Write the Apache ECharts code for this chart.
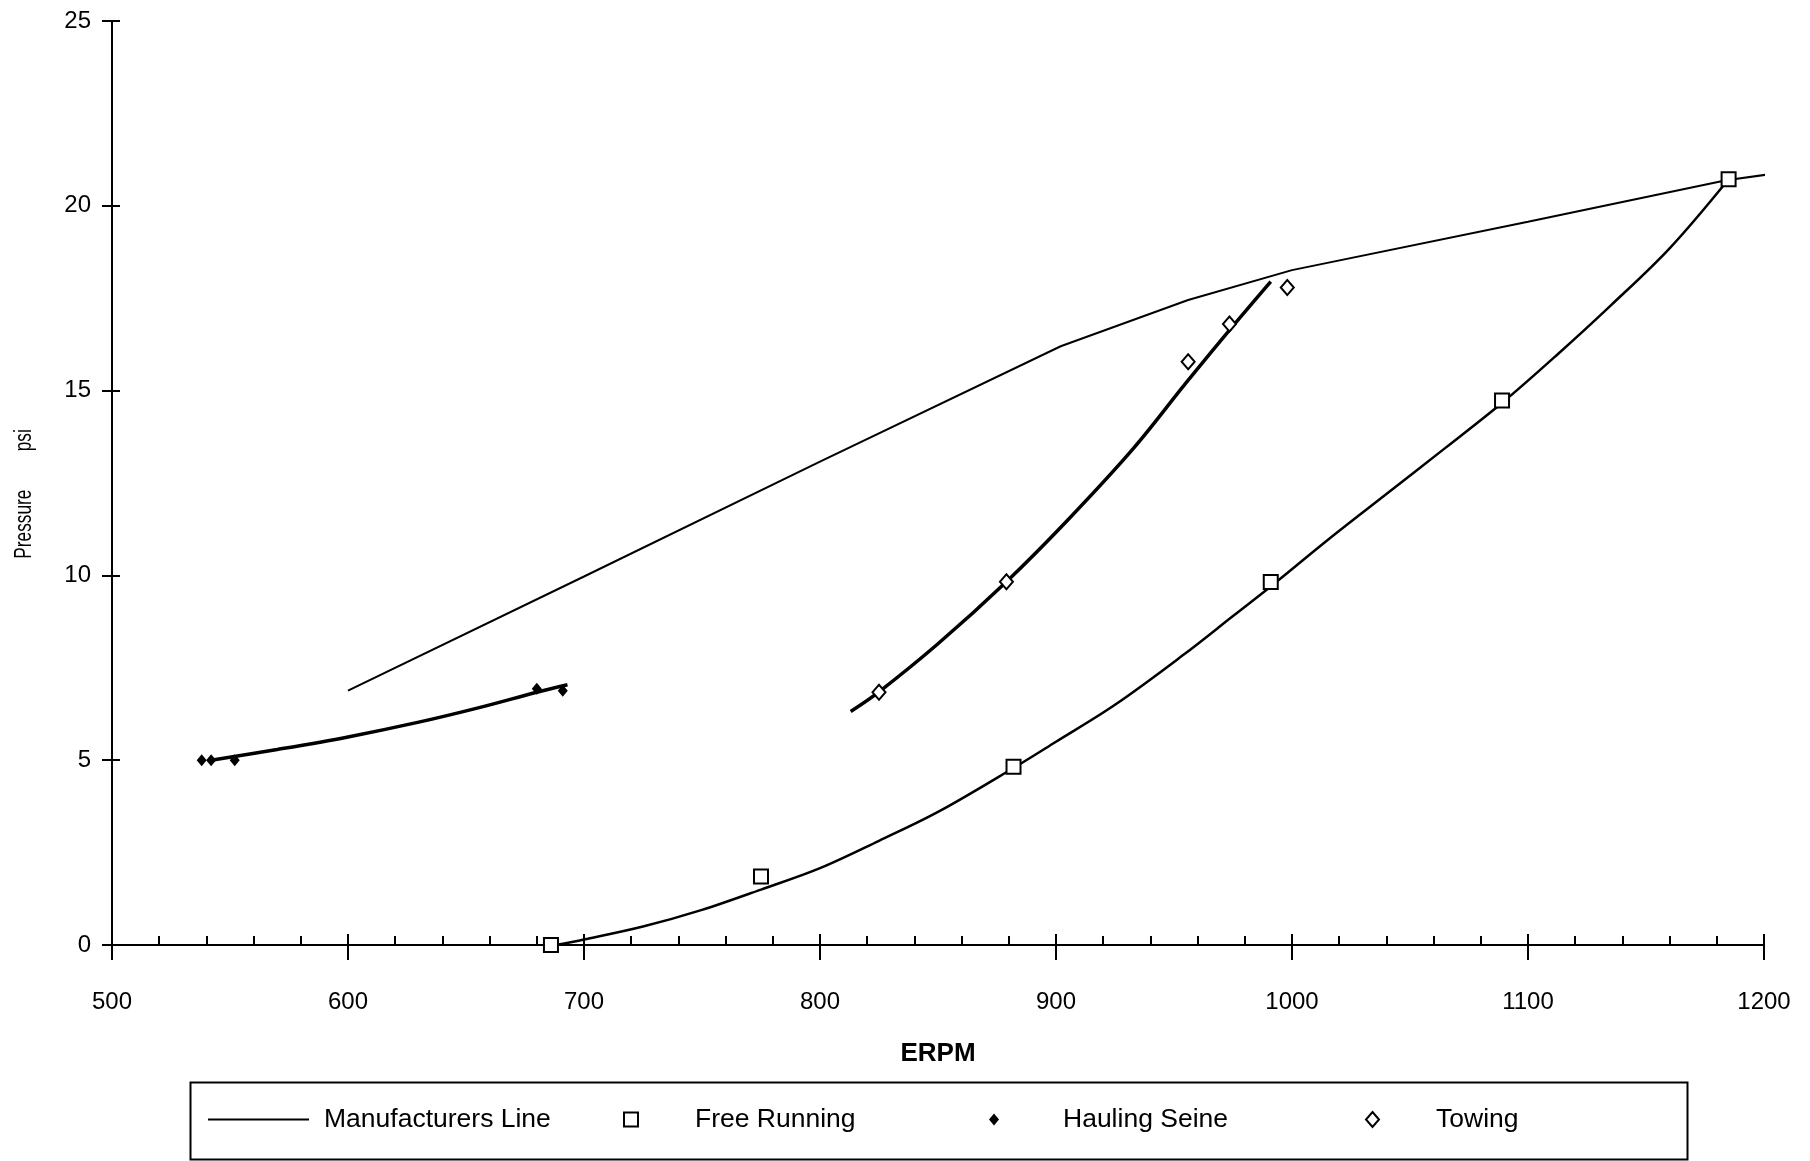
<!DOCTYPE html>
<html>
<head>
<meta charset="utf-8">
<title>ERPM vs Pressure</title>
<script src="https://cdn.jsdelivr.net/npm/echarts@6/dist/echarts.min.js"></script>
<style>
  html, body { margin: 0; padding: 0; background: #fff; }
  #chart { width: 1810px; height: 1161px; }
</style>
</head>
<body>
<div id="chart"></div>
<script>
// Axis settings
const xTicks = [500, 600, 700, 800, 900, 1000, 1100, 1200];
const yTicks = [0, 5, 10, 15, 20, 25];

// Manufacturers line: [ERPM, psi]
const manufacturersLine = [
  [600, 6.88], [700, 9.97], [800, 13.08], [902, 16.2], [956, 17.45],
  [1000, 18.26], [1100, 19.57], [1184, 20.69], [1203, 20.86]
];

// Measured points
const freeRunning = [[686, 0], [775, 1.85], [882, 4.82], [991, 9.82], [1089, 14.73], [1185, 20.72]];
const haulingSeine = [[538, 5.0], [542, 5.0], [552, 5.0], [680, 6.93], [691, 6.88]];
const towing = [[825, 6.84], [879, 9.83], [956, 15.78], [973.5, 16.8], [998, 17.79]];

// Fitted trend curves
const freeRunningTrend = [
  [688, 0], [700, 0.15], [725, 0.5], [750, 0.95], [775, 1.5], [800, 2.08], [825, 2.82],
  [850, 3.6], [882, 4.79], [900, 5.5], [925, 6.5], [954, 7.85], [975, 8.9], [991, 9.7],
  [1015, 10.95], [1040, 12.2], [1065, 13.45], [1090, 14.72], [1112, 15.95], [1135, 17.3],
  [1160, 18.85], [1185, 20.72]
];
const haulingSeineTrend = [
  [542, 5.0], [570, 5.29], [600, 5.63], [630, 6.03], [656, 6.43], [680, 6.84], [693, 7.04]
];
const towingTrend = [
  [813, 6.32], [825, 6.85], [850, 8.15], [879, 9.83], [905, 11.5], [933, 13.45],
  [955, 15.2], [975, 16.75], [991, 17.95]
];

const FONT = "'Liberation Sans', Arial, Helvetica, sans-serif";
const INK = '#000';

const chart = echarts.init(document.getElementById('chart'), null, { renderer: 'canvas' });

const plain = (v) => String(v);

function legendFor(name, icon, left, itemW, itemH, textPad) {
  return {
    data: [{ name: name, icon: icon }],
    left: left,
    top: 1106,
    orient: 'horizontal',
    padding: 0,
    itemWidth: itemW,
    itemHeight: itemH,
    selectedMode: false,
    textStyle: { fontFamily: FONT, fontSize: 26.5, color: INK, padding: [0, 0, 0, textPad] }
  };
}

const option = {
  backgroundColor: '#fff',
  animation: false,
  grid: { left: 112, top: 21, width: 1652, height: 924 },
  xAxis: [
    {
      type: 'value', position: 'bottom',
      min: xTicks[0], max: xTicks[xTicks.length - 1], interval: 100,
      axisLine: { show: true, onZero: false, lineStyle: { color: INK, width: 2 } },
      axisTick: { show: true, inside: false, length: 15, lineStyle: { color: INK, width: 2 } },
      axisLabel: { fontFamily: FONT, fontSize: 24, color: INK, margin: 45, formatter: plain },
      splitLine: { show: false },
      name: 'ERPM', nameLocation: 'middle', nameGap: 96,
      nameTextStyle: { fontFamily: FONT, fontSize: 26, fontWeight: 'bold', color: INK }
    },
    {
      type: 'value', position: 'bottom',
      min: xTicks[0], max: xTicks[xTicks.length - 1], interval: 100,
      axisLine: { show: false, onZero: false },
      axisTick: { show: true, inside: true, length: 11, lineStyle: { color: INK, width: 2 } },
      minorTick: { show: true, splitNumber: 5, length: 9, lineStyle: { color: INK, width: 2 } },
      axisLabel: { show: false },
      splitLine: { show: false }
    }
  ],
  yAxis: [
    {
      type: 'value', position: 'left',
      min: yTicks[0], max: yTicks[yTicks.length - 1], interval: 5,
      axisLine: { show: true, onZero: false, lineStyle: { color: INK, width: 2 } },
      axisTick: { show: true, inside: false, length: 10, lineStyle: { color: INK, width: 2 } },
      axisLabel: { fontFamily: FONT, fontSize: 24, color: INK, margin: 21, formatter: plain },
      splitLine: { show: false }
    },
    {
      type: 'value', position: 'left',
      min: yTicks[0], max: yTicks[yTicks.length - 1], interval: 5,
      axisLine: { show: false, onZero: false },
      axisTick: { show: true, inside: true, length: 8, lineStyle: { color: INK, width: 2 } },
      axisLabel: { show: false },
      splitLine: { show: false }
    }
  ],
  legend: [
    legendFor('Manufacturers Line', 'rect', 208, 101, 2, 10),
    legendFor('Free Running', 'rect', 623, 14, 14, 52),
    legendFor('Hauling Seine', 'diamond', 989, 10, 12, 59),
    legendFor('Towing', 'diamond', 1365, 13, 15, 52)
  ],
  graphic: [
    {
      // legend frame
      type: 'rect', left: 188, top: 1080, z: 0,
      shape: { width: 1497, height: 77 },
      style: { fill: 'none', stroke: INK, lineWidth: 2 }
    },
    {
      // y axis title, condensed and reading upward
      type: 'text', x: 25, y: 494, rotation: Math.PI / 2, scaleX: 0.75,
      style: {
        text: 'Pressure        psi', fontFamily: FONT, fontSize: 23, fill: INK,
        align: 'center', verticalAlign: 'middle'
      }
    }
  ],
  series: [
    {
      name: 'Manufacturers Line', type: 'line', data: manufacturersLine,
      symbol: 'none', smooth: false, z: 3,
      lineStyle: { color: INK, width: 2 }, itemStyle: { color: INK }
    },
    {
      name: 'Free Running trend', type: 'line', data: freeRunningTrend,
      symbol: 'none', smooth: 0.35, z: 3,
      lineStyle: { color: INK, width: 2.5 }
    },
    {
      name: 'Hauling Seine trend', type: 'line', data: haulingSeineTrend,
      symbol: 'none', smooth: 0.35, z: 3,
      lineStyle: { color: INK, width: 3.5 }
    },
    {
      name: 'Towing trend', type: 'line', data: towingTrend,
      symbol: 'none', smooth: 0.35, z: 3,
      lineStyle: { color: INK, width: 3.5 }
    },
    {
      name: 'Free Running', type: 'scatter', data: freeRunning,
      symbol: 'rect', symbolSize: 14, z: 5,
      itemStyle: { color: '#fff', borderColor: INK, borderWidth: 2, opacity: 1 }
    },
    {
      name: 'Hauling Seine', type: 'scatter', data: haulingSeine,
      symbol: 'diamond', symbolSize: [10, 12], z: 5,
      itemStyle: { color: INK, opacity: 1 }
    },
    {
      name: 'Towing', type: 'scatter', data: towing,
      symbol: 'diamond', symbolSize: [13, 15], z: 5,
      itemStyle: { color: '#fff', borderColor: INK, borderWidth: 2, opacity: 1 }
    }
  ]
};

chart.setOption(option);
</script>
</body>
</html>
